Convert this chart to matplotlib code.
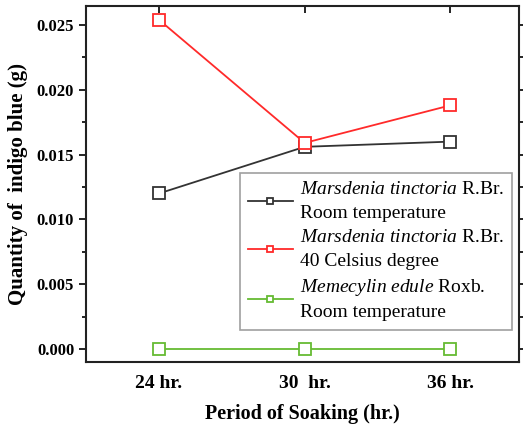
import matplotlib
matplotlib.use("Agg")
import matplotlib.pyplot as plt
from matplotlib.ticker import MultipleLocator

periods = ["24 hr.", "30  hr.", "36 hr."]
room_marsdenia = [0.0120, 0.0156, 0.0160]
hot_marsdenia = [0.0254, 0.0159, 0.0188]
room_memecylin = [0.0, 0.0, 0.0]

labels = [
    "$\\it{Marsdenia\\ tinctoria}$ R.Br.\nRoom temperature",
    "$\\it{Marsdenia\\ tinctoria}$ R.Br.\n40 Celsius degree",
    "$\\it{Memecylin\\ edule}$ Roxb.\nRoom temperature",
]
colors = ["#333333", "#ff2a2a", "#66bb33"]

plt.rcParams["font.family"] = "Liberation Serif"
plt.rcParams["mathtext.fontset"] = "custom"
plt.rcParams["mathtext.it"] = "Liberation Serif:italic"
plt.rcParams["mathtext.rm"] = "Liberation Serif"

fig = plt.figure(figsize=(5.23, 4.26), dpi=100)
ax = fig.add_axes([0.1644, 0.150, 0.828, 0.836])

x = list(range(len(periods)))
for ys, c, lab in zip([room_marsdenia, hot_marsdenia, room_memecylin], colors, labels):
    ax.plot(x, ys, "-s", color=c, lw=1.3, ms=9, mfc="white", mec=c, mew=1.3, label=lab)

ax.set_xlim(-0.5, 2.47)
ax.set_ylim(-0.001, 0.02646)
ax.set_xticks(x)
ax.set_xticklabels(periods, fontsize=14, fontweight="bold")
ax.yaxis.set_major_locator(MultipleLocator(0.005))
ax.yaxis.set_minor_locator(MultipleLocator(0.0025))
ax.yaxis.set_major_formatter(matplotlib.ticker.FormatStrFormatter("%.3f"))
for t in ax.get_yticklabels():
    t.set_fontweight("bold")
    t.set_fontsize(12)
ax.tick_params(axis="y", which="both", direction="out", right=True, length=5, width=1.2)
ax.tick_params(axis="y", which="minor", length=3)
ax.tick_params(axis="x", direction="in", top=True, bottom=False, length=5, width=1.2, pad=9)
for s in ax.spines.values():
    s.set_linewidth(1.5)
    s.set_color("#222222")

ax.set_xlabel("Period of Soaking (hr.)", fontsize=14.5, fontweight="bold", labelpad=9)
ax.set_ylabel("Quantity of  indigo blue (g)", fontsize=15, fontweight="bold", labelpad=6)

leg = ax.legend(loc="upper right", bbox_to_anchor=(0.984, 0.531), fontsize=14,
                fancybox=False, edgecolor="#888888", markerscale=0.45,
                handlelength=2.3, labelspacing=0.38, borderpad=0.42, handletextpad=0.35,
                borderaxespad=0)
leg.get_frame().set_linewidth(1.2)
for t in leg.get_texts():
    t.set_linespacing(1.5)

fig.savefig("out.png", dpi=100)
